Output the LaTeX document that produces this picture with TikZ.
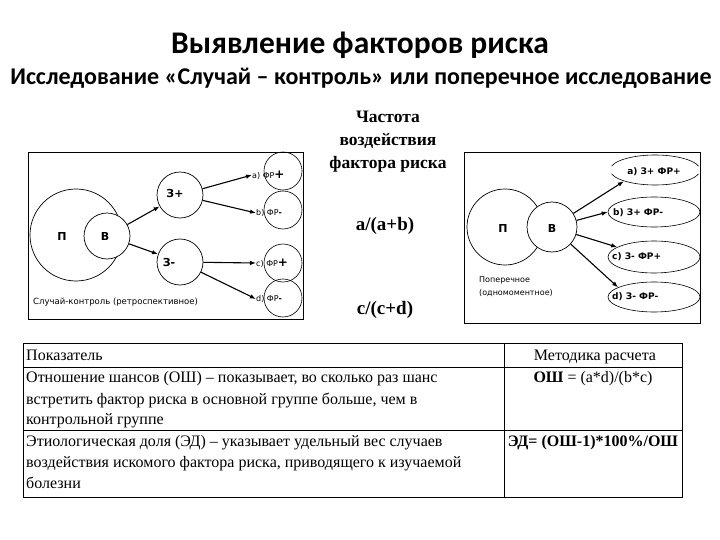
\documentclass[tikz,border=0pt]{standalone}
\usepackage{fontspec}
\setmainfont{Liberation Serif}
\setsansfont{DejaVu Sans}
\newfontfamily\titlefont{Carlito}
\usetikzlibrary{arrows.meta,shapes.geometric,positioning}

\tikzset{
  circ/.style={draw, circle, inner sep=0pt, fill=white, line width=0.7pt},
  ring/.style={draw, circle, inner sep=0pt, minimum size=38pt, line width=0.6pt},
  oval/.style={draw, ellipse, inner sep=0pt, minimum width=92pt, minimum height=30pt, line width=0.6pt},
  arr/.style={-{Latex[length=6pt,width=4.5pt]}, line width=1.1pt},
  small/.style={font=\sffamily\fontsize{8}{9}\selectfont, inner sep=0pt, anchor=west},
  tag/.style={font=\sffamily\bfseries\fontsize{9}{10}\selectfont, inner sep=0pt},
  big/.style={font=\sffamily\bfseries\fontsize{11}{12}\selectfont, inner sep=0pt},
  mid/.style={font=\bfseries\fontsize{17.5}{19}\selectfont, inner sep=0pt},
  row/.style={font=\fontsize{16}{18}\selectfont, anchor=base west, inner sep=0pt},
}

\begin{document}
\begin{tikzpicture}[x=1pt, y=-1pt]

\useasboundingbox (0,0) rectangle (720,540);
\fill[white] (0,0) rectangle (720,540);

% headings
\node[font=\titlefont\bfseries\fontsize{31.5}{33}\selectfont] (title) at (360,45) {Выявление факторов риска};
\node[font=\titlefont\bfseries\fontsize{24}{26}\selectfont] (subtitle) at (361,78) {Исследование «Случай – контроль» или поперечное исследование};

% case-control scheme
\draw[line width=0.7pt] (28,152) rectangle (303,319);

\node[circ, minimum size=92pt] (P1) at (76,235) {};
\node[circ, minimum size=46pt] (B1) at (107,236) {};
\node[circ, minimum size=46pt] (Zp) at (180,195) {};
\node[circ, minimum size=46pt] (Zm) at (180,262) {};

\node[big] (P1t) at (62,236) {П};
\node[big] (B1t) at (105,236) {В};
\node[big] (Zpt) at (175,193) {З+};
\node[big] (Zmt) at (169,262) {З-};

\foreach \n/\y in {Ca/171, Cb/210, Cc/263, Cd/298} {
    \node[ring] (\n) at (283,\y) {};
}

\node[small] (La) at (252,175) {a) ФР{\bfseries\large +}};
\node[small] (Lb) at (256,213) {b) ФР{\bfseries -}};
\node[small] (Lc) at (256,263) {c) ФР{\bfseries\large +}};
\node[small] (Ld) at (256,299) {d) ФР{\bfseries -}};

\node[small, font=\sffamily\fontsize{8.5}{9}\selectfont] (cap1) at (33,302) {Случай-контроль (ретроспективное)};

\draw[arr] (B1) -- (Zp);
\draw[arr] (B1) -- (Zm);
\draw[arr] (Zp) -- (La.west);
\draw[arr] (Zp) -- (Lb.west);
\draw[arr] (Zm) -- (Lc.west);
\draw[arr] (Zm) -- (Ld.west);

% frequency column
\node[mid] (q1) at (388,117) {Частота};
\node[mid] (q2) at (388,141) {воздействия};
\node[mid] (q3) at (388,164) {фактора риска};
\node[font=\bfseries\fontsize{19}{20}\selectfont] (fab) at (385,226) {a/(a+b)};
\node[font=\bfseries\fontsize{19}{20}\selectfont] (fcd) at (385,310) {c/(c+d)};

% cross-sectional scheme
\draw[line width=0.7pt] (464,152) rectangle (700,323);

\node[circ, minimum size=76pt] (P2) at (505,227) {};
\node[circ, minimum size=50pt] (B2) at (552,227) {};
\node[big] (P2t) at (503,228) {П};
\node[big] (B2t) at (552,228) {В};

\node[oval, draw=none] (Ea) at (655,170) {};
\draw[line width=0.6pt, shift={(Ea.center)}] (165:45pt and 15pt) arc[start angle=165, end angle=15, x radius=45pt, y radius=15pt];
\draw[line width=0.6pt, shift={(Ea.center)}] (195:45pt and 15pt) arc[start angle=195, end angle=345, x radius=45pt, y radius=15pt];
\node[oval] (Eb) at (654,212) {};
\node[oval, minimum height=32pt] (Ec) at (654,257) {};
\node[oval] (Ed) at (654,297) {};

\node[tag] (Ta) at (654,172) {a) З+ ФР+};
\node[tag, anchor=west] (Tb) at (613,213) {b) З+ ФР-};
\node[tag, anchor=west] (Tc) at (612,257) {c) З- ФР+};
\node[tag, anchor=west] (Td) at (612,297) {d) З- ФР-};

\node[small] (cap2) at (479,280) {Поперечное};
\node[small] (cap3) at (479,293) {(одномоментное)};

\draw[arr] (B2) -- (Ea.200);
\draw[arr] (B2) -- (Eb.west);
\draw[arr] (B2) -- (Ec.165);
\draw[arr] (B2) -- (Ed.165);

% table
\draw[line width=0.7pt] (23,343) rectangle (682,497);
\draw[line width=0.7pt] (23,367) -- (682,367);
\draw[line width=0.7pt] (23,430) -- (682,430);
\draw[line width=0.7pt] (504,343) -- (504,497);

\node[row] (h1) at (26,360) {Показатель};
\node[row] (r1) at (26,382) {Отношение шансов (ОШ) – показывает, во сколько раз шанс};
\node[row] (r2) at (26,404) {встретить фактор риска в основной группе больше, чем в};
\node[row] (r3) at (26,424) {контрольной группе};
\node[row] (r4) at (26,446) {Этиологическая доля (ЭД) – указывает удельный вес случаев};
\node[row] (r5) at (26,467) {воздействия искомого фактора риска, приводящего к изучаемой};
\node[row] (r6) at (26,488) {болезни};

\node[row, anchor=base] (h2) at (595,360) {Методика расчета};
\node[row, anchor=base] (m1) at (593,382) {\textbf{ОШ} = (a*d)/(b*c)};
\node[row, anchor=base] (m2) at (593,446) {\textbf{ЭД= (ОШ-1)*100\%/ОШ}};

\end{tikzpicture}
\end{document}
